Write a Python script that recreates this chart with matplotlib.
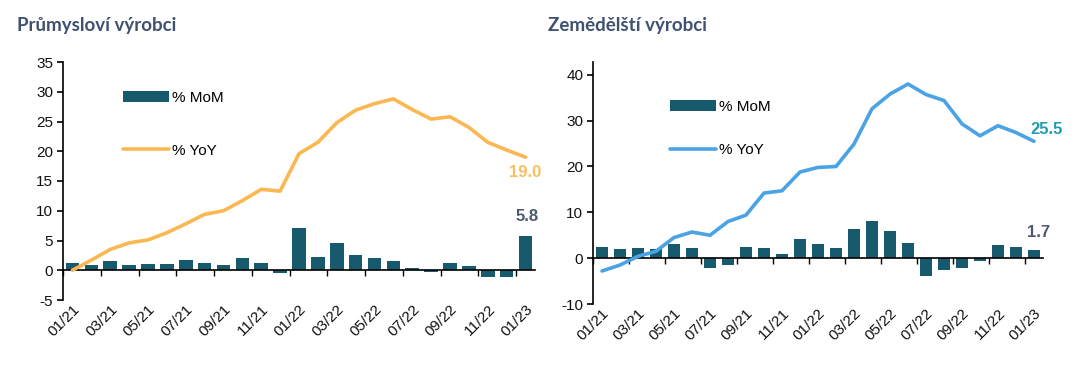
import matplotlib
matplotlib.use('Agg')
import matplotlib.pyplot as plt
import matplotlib.transforms as mtransforms
import numpy as np

# data, months 01/21 .. 01/23
months = ['01/21', '02/21', '03/21', '04/21', '05/21', '06/21', '07/21', '08/21', '09/21',
          '10/21', '11/21', '12/21', '01/22', '02/22', '03/22', '04/22', '05/22', '06/22',
          '07/22', '08/22', '09/22', '10/22', '11/22', '12/22', '01/23']

prum_mom = [1.3, 0.8, 1.6, 0.8, 1.1, 1.1, 1.8, 1.3, 0.8, 2.1, 1.3, -0.4, 7.1,
            2.3, 4.5, 2.6, 2.1, 1.6, 0.4, -0.3, 1.3, 0.7, -1.2, -1.2, 5.8]
prum_yoy = [0.0, 1.7, 3.5, 4.6, 5.1, 6.3, 7.8, 9.4, 10.0, 11.7, 13.6, 13.3, 19.6,
            21.5, 24.8, 26.9, 28.0, 28.8, 27.0, 25.4, 25.8, 24.0, 21.5, 20.2, 19.0]

zem_mom = [2.5, 1.9, 2.2, 1.9, 3.1, 2.2, -2.2, -1.6, 2.5, 2.2, 0.9, 4.1, 3.1,
           2.2, 6.3, 8.1, 5.9, 3.4, -3.8, -2.5, -2.2, -0.6, 2.8, 2.5, 1.7]
zem_yoy = [-2.8, -1.5, 0.4, 1.5, 4.5, 5.7, 5.0, 8.0, 9.4, 14.2, 14.7, 18.8, 19.8,
           20.0, 24.9, 32.6, 35.8, 38.0, 35.7, 34.4, 29.3, 26.7, 28.9, 27.4, 25.5]

BAR = '#175a6d'
TITLE = '#3f5170'

plt.rcParams['font.family'] = ['Liberation Sans', 'DejaVu Sans']
plt.rcParams['axes.unicode_minus'] = False

fig = plt.figure(figsize=(10.89, 3.67), dpi=100)
x = np.arange(len(months))


def panel(rect, mom, yoy, line_color, lab_color, ylim, yticks, leg_anchor, leg_spacing,
          yoy_off, mom_off):
    ax = fig.add_axes(rect)
    bars = ax.bar(x, mom, width=0.72, color=BAR, zorder=1, label='% MoM')
    line, = ax.plot(x, yoy, color=line_color, lw=2.6, zorder=3, label='% YoY',
                    solid_capstyle='round', solid_joinstyle='round')
    ax.set_xlim(-0.5, 24.5)
    ax.set_ylim(*ylim)
    ax.set_yticks(yticks)
    ax.tick_params(axis='y', length=4, width=1.2, labelsize=11, pad=3, labelcolor='#111111')
    for s in ['top', 'right']:
        ax.spines[s].set_visible(False)
    ax.spines['left'].set_linewidth(1.2)
    ax.spines['bottom'].set_position(('data', 0))
    ax.spines['bottom'].set_linewidth(1.2)
    ax.set_xticks([])
    ax.set_xticks(np.arange(-0.5, 24, 2), minor=True)
    ax.tick_params(axis='x', which='minor', length=4, width=1, direction='out')
    sec = ax.secondary_xaxis(0)
    sec.set_xticks(x[::2], months[::2])
    sec.spines['bottom'].set_visible(False)
    sec.tick_params(length=0, pad=5, labelsize=11, labelcolor='#111111')
    shift = mtransforms.ScaledTranslation(5 / 100, 0, fig.dpi_scale_trans)
    for t in sec.get_xticklabels():
        t.set_rotation(45)
        t.set_ha('right')
        t.set_va('center')
        t.set_rotation_mode('anchor')
        t.set_transform(t.get_transform() + shift)
    ax.legend(handles=[bars, line], loc='upper left', bbox_to_anchor=leg_anchor,
              frameon=False, fontsize=11, handlelength=3.0, handletextpad=0.2,
              labelspacing=leg_spacing, borderpad=0, borderaxespad=0)
    ax.annotate(f'{yoy[-1]:.1f}', xy=(x[-1], yoy[-1]), xytext=yoy_off,
                textcoords='offset points', ha='center', va='center',
                fontsize=12, fontweight='bold', color=lab_color)
    ax.annotate(f'{mom[-1]:.1f}', xy=(x[-1], mom[-1]), xytext=mom_off,
                textcoords='offset points', ha='center', va='center',
                fontsize=12, fontweight='bold', color='#4d5a6e')
    return ax


panel([63 / 1089, 67 / 367, 472 / 1089, 238 / 367], prum_mom, prum_yoy,
      '#fbb852', '#fbbd5e', (-5, 35), np.arange(-5, 36, 5), (0.127, 0.88), 2.55,
      (0, -11), (1, 13.5))
panel([593 / 1089, 63 / 367, 450 / 1089, 242 / 367], zem_mom, zem_yoy,
      '#4aa3e4', '#1f9cb3', (-10, 42.8), np.arange(-10, 41, 10), (0.171, 0.845), 1.95,
      (9, 8.6), (3.6, 13))

fig.text(17 / 1089, 1 - 25 / 367, 'Průmysloví výrobci', family='Lato', fontweight='bold',
         fontsize=13.5, color=TITLE, va='center', ha='left')
fig.text(548 / 1089, 1 - 25 / 367, 'Zemědělští výrobci', family='Lato', fontweight='bold',
         fontsize=13.5, color=TITLE, va='center', ha='left')

fig.savefig('out.png', dpi=100)
